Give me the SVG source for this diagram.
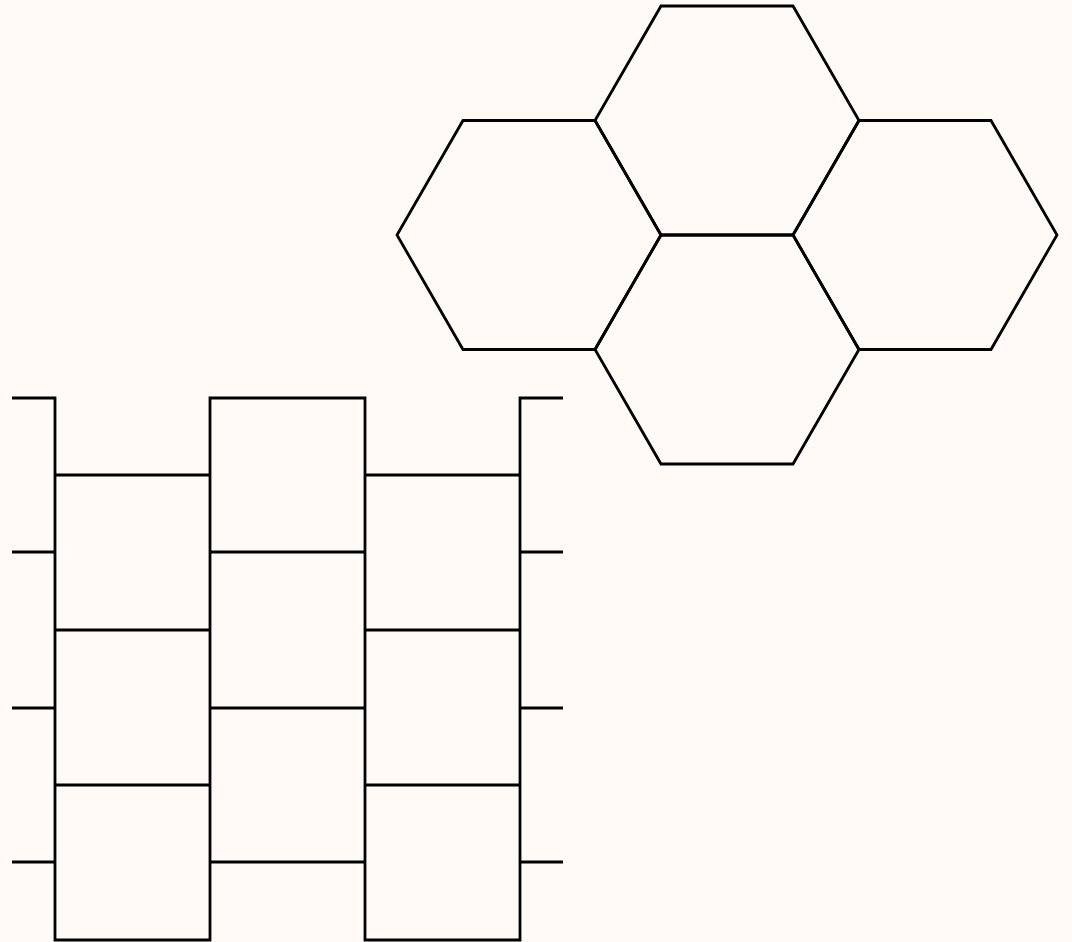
<svg xmlns="http://www.w3.org/2000/svg" width="1072" height="942" viewBox="0 0 1072 942">
<style>
.s{fill:none;stroke:#000;stroke-width:2.8;stroke-linejoin:miter;stroke-linecap:butt}
</style>
<rect width="1072" height="942" fill="#fffaf5"/>
<g id="hexagons" class="s">
<polygon id="hex-top" points="661,6 793,6 859,120.5 793,235 661,235 595,120.5"/>
<polygon id="hex-left" points="463,120.5 595,120.5 661,235 595,349.5 463,349.5 397,235"/>
<polygon id="hex-right" points="859,120.5 991,120.5 1057,235 991,349.5 859,349.5 793,235"/>
<polygon id="hex-bottom" points="661,235 793,235 859,349.5 793,464 661,464 595,349.5"/>
</g>
<g id="bricks" class="s">
<path d="M12,398 H55 V940 H210 V398 H365 V940 H520 V398 H563"/>
<path d="M55,475 H210 M55,630 H210 M55,785 H210"/>
<path d="M365,475 H520 M365,630 H520 M365,785 H520"/>
<path d="M210,552 H365 M210,708 H365 M210,862 H365"/>
<path d="M12,552 H55 M12,708 H55 M12,862 H55"/>
<path d="M520,552 H563 M520,708 H563 M520,862 H563"/>
</g>
</svg>
